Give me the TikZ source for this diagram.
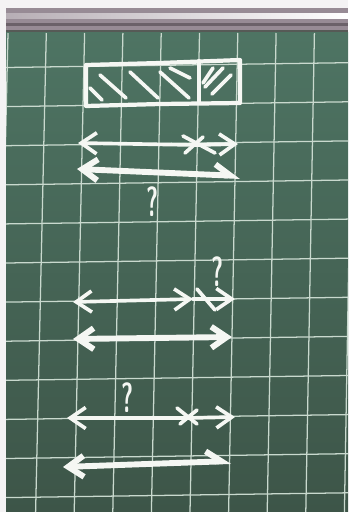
\documentclass[tikz,border=0pt]{standalone}
\usetikzlibrary{arrows.meta}
\definecolor{Paper}{HTML}{F4F3F4}
\definecolor{Tray}{HTML}{978B95}
\definecolor{TrayDark}{HTML}{6B6169}
\definecolor{Ledge}{HTML}{565A56}
\definecolor{BoardTop}{HTML}{4E7463}
\definecolor{BoardBottom}{HTML}{3D5548}
\definecolor{Grid}{HTML}{C9D9CE}
\definecolor{Chalk}{HTML}{F5F7F3}

\begin{document}
\begin{tikzpicture}[x={(0.025cm,0)},y={(0,-0.025cm)},>={Straight Barb[length=11pt,width=15pt]},
  hb/.tip={Straight Barb[left,length=11pt,width=15pt]},
  gridline/.style={Grid,line width=0.9pt},
  chalk/.style={Chalk,line width=2.6pt,line cap=round,line join=round},
  chalkbold/.style={chalk,line width=4.2pt},
  qmark/.style={text=Chalk,inner sep=0pt,font=\sffamily\bfseries\fontsize{30}{30}\selectfont}]
\useasboundingbox (0,0) rectangle (348,512);
\fill[Paper] (0,0) rectangle (348,512);
\fill[Tray] (6,8) rectangle (348,33);
\fill[left color=Tray!70!white,right color=white] (6,14) rectangle (348,19);
\fill[TrayDark] (6,23) rectangle (348,26);\fill[Ledge] (6,30) rectangle (348,33);
\fill[top color=BoardTop,bottom color=BoardBottom] (6,33) rectangle (348,512);
\begin{scope}\clip (6,33) rectangle (348,512);
\foreach \i in {0,...,9} \draw[gridline] ({8+38.3*\i},33) -- ({-3+38.6*\i},512);
\foreach \j in {0,...,11} \draw[gridline] (6,{67.5+39.1*\j}) -- (348,{62.7+39.1*\j});
\end{scope}
% hatched bar
\draw[chalk,line width=3pt] (86,65) -- (160,63) -- (240,60) -- (240,103) -- (160,104) -- (86,106) -- cycle;
\draw[chalk,line width=3pt] (199,61) -- (199,103);
\foreach \xa/\ya/\xb/\yb in {90/88/102/100,100/75/126/98,130/72/158/98,160/72/189/98,170/68/190/78,203/83/213/68,205/87/223/68,212/94/231/75}
  \draw[chalk] (\xa,\ya) -- (\xb,\yb);
% first pair
\coordinate (g1a) at (78,143);\coordinate (g1x) at (197,145);\coordinate (g1b) at (238,144);
\draw[chalk,<->] (g1a) -- (g1x) -- (g1b);
\draw[chalk] ([shift={(-14,-9)}]g1x) -- ([shift={(18,8)}]g1x);\draw[chalk] ([shift={(-12,8)}]g1x) -- ([shift={(6,-8)}]g1x);
\coordinate (g1c) at (77,169);\coordinate (g1d) at (240,176);
\draw[chalkbold,<-hb] (g1c) -- (g1d);
\node[qmark] (q1) at (153,202) {\scalebox{0.55}[1]{?}};
% second pair
\node[qmark] (q2) at (218,272) {\scalebox{0.55}[1]{?}};
\coordinate (g2a) at (73,302);\coordinate (g2x) at (193,299);\coordinate (g2b) at (235,299);
\draw[chalk,<->] (g2a) -- (g2x);\draw[chalk,->] (g2x) -- (g2b);
\draw[chalk] ([shift={(4,-10)}]g2x) -- ([shift={(22,11)}]g2x);
\coordinate (g2c) at (73,339);\coordinate (g2d) at (232,337);
\draw[chalkbold,<->] (g2c) -- (g2d);
% third pair
\node[qmark] (q3) at (128,398) {\scalebox{0.55}[1]{?}};
\coordinate (g3a) at (67,418);\coordinate (g3x) at (187,418);\coordinate (g3b) at (235,417);
\draw[chalk,<->] (g3a) -- (g3x) -- (g3b);
\draw[chalk] ([shift={(-10,-10)}]g3x) -- ([shift={(10,6)}]g3x);\draw[chalk] ([shift={(10,-8)}]g3x) -- ([shift={(-7,6)}]g3x);
\coordinate (g3c) at (63,467);\coordinate (g3d) at (231,461);
\draw[chalkbold,<-hb] (g3c) -- (g3d);
\end{tikzpicture}
\end{document}
